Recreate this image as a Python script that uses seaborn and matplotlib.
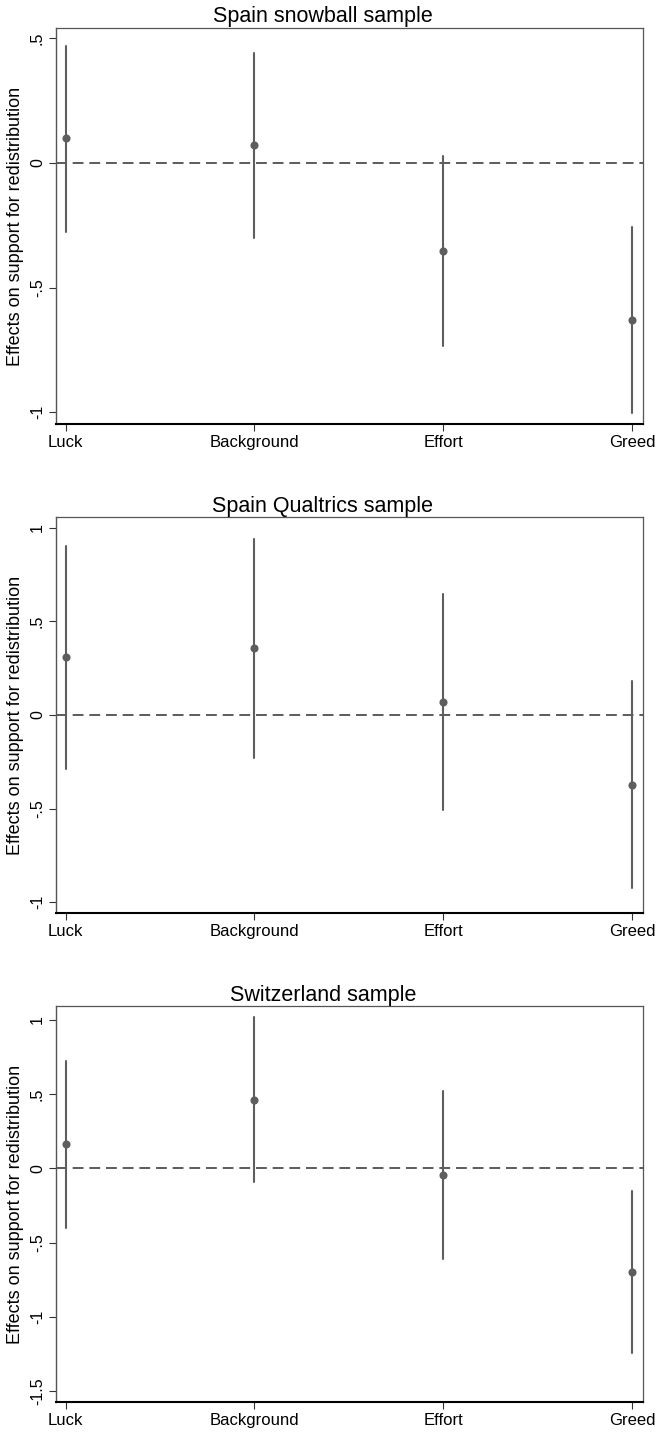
import numpy as np
import pandas as pd
import matplotlib
matplotlib.use("Agg")
import matplotlib.pyplot as plt
import seaborn as sns

categories = ["Luck", "Background", "Effort", "Greed"]
titles = ["Spain snowball sample", "Spain Qualtrics sample", "Switzerland sample"]

est_snowball = [0.099, 0.071, -0.353, -0.629]
lo_snowball = [-0.276, -0.302, -0.734, -1.003]
hi_snowball = [0.471, 0.443, 0.029, -0.256]

est_qualtrics = [0.310, 0.358, 0.070, -0.374]
lo_qualtrics = [-0.287, -0.228, -0.510, -0.925]
hi_qualtrics = [0.904, 0.941, 0.647, 0.180]

est_swiss = [0.162, 0.463, -0.045, -0.701]
lo_swiss = [-0.404, -0.094, -0.609, -1.243]
hi_swiss = [0.726, 1.020, 0.524, -0.153]

yticks_snowball = [-1, -0.5, 0, 0.5]
ytick_labels_snowball = ["-1", "-.5", "0", ".5"]
yticks_qualtrics = [-1, -0.5, 0, 0.5, 1]
ytick_labels_qualtrics = ["-1", "-.5", "0", ".5", "1"]
yticks_swiss = [-1.5, -1, -0.5, 0, 0.5, 1]
ytick_labels_swiss = ["-1.5", "-1", "-.5", "0", ".5", "1"]

sns.set_theme(style="white")
plt.rcParams["font.family"] = ["Liberation Sans", "DejaVu Sans"]

panels = [
    (titles[0], est_snowball, lo_snowball, hi_snowball, yticks_snowball, ytick_labels_snowball, (-1.048, 0.542)),
    (titles[1], est_qualtrics, lo_qualtrics, hi_qualtrics, yticks_qualtrics, ytick_labels_qualtrics, (-1.057, 1.057)),
    (titles[2], est_swiss, lo_swiss, hi_swiss, yticks_swiss, ytick_labels_swiss, (-1.575, 1.094)),
]
positions = [
    [0.0851, 0.7047, 0.8916, 0.2758],
    [0.0851, 0.3644, 0.8916, 0.2754],
    [0.0851, 0.0237, 0.8916, 0.2757],
]

fig = plt.figure(figsize=(6.58, 14.36), dpi=100)
col = "#5e5e5e"

for (title, est, lo, hi, yt, ytl, ylim), pos in zip(panels, positions):
    ax = fig.add_axes(pos)
    rows = []
    for c, e, l, h in zip(categories, est, lo, hi):
        for v in (l, e, h):
            rows.append({"category": c, "value": v})
    df = pd.DataFrame(rows)
    ax.axhline(0, color="#404040", lw=1.2, ls=(0, (6.5, 3.5)), zorder=1)
    sns.pointplot(data=df, x="category", y="value", order=categories,
                  estimator="median", errorbar=("pi", 100),
                  linestyle="none", color=col, markersize=3.8,
                  err_kws={"linewidth": 1.5, "color": col}, ax=ax, zorder=3)
    ax.set_xlim(-0.051, 3.057)
    ax.set_ylim(*ylim)
    ax.set_yticks(yt)
    ax.set_yticklabels(ytl, rotation=90, va="center", fontsize=11.5)
    ax.tick_params(axis="x", labelsize=12, length=5, width=0.8, color="#333333", direction="out", bottom=True, pad=3)
    ax.tick_params(axis="y", length=5, width=0.8, color="#333333", direction="out", left=True, pad=3)
    ax.set_xlabel("")
    ax.set_ylabel("Effects on support for redistribution", fontsize=13, labelpad=4, color="black")
    ax.set_title(title, fontsize=15.5, pad=4, x=0.455, color="black")
    for s in ["top", "right"]:
        ax.spines[s].set_color("#555555")
        ax.spines[s].set_linewidth(0.9)
    ax.spines["left"].set_color("#555555")
    ax.spines["left"].set_linewidth(1.0)
    ax.spines["bottom"].set_color("#000000")
    ax.spines["bottom"].set_linewidth(1.5)
    for t in ax.get_xticklabels() + ax.get_yticklabels():
        t.set_color("black")

fig.savefig("out.png", dpi=100)
